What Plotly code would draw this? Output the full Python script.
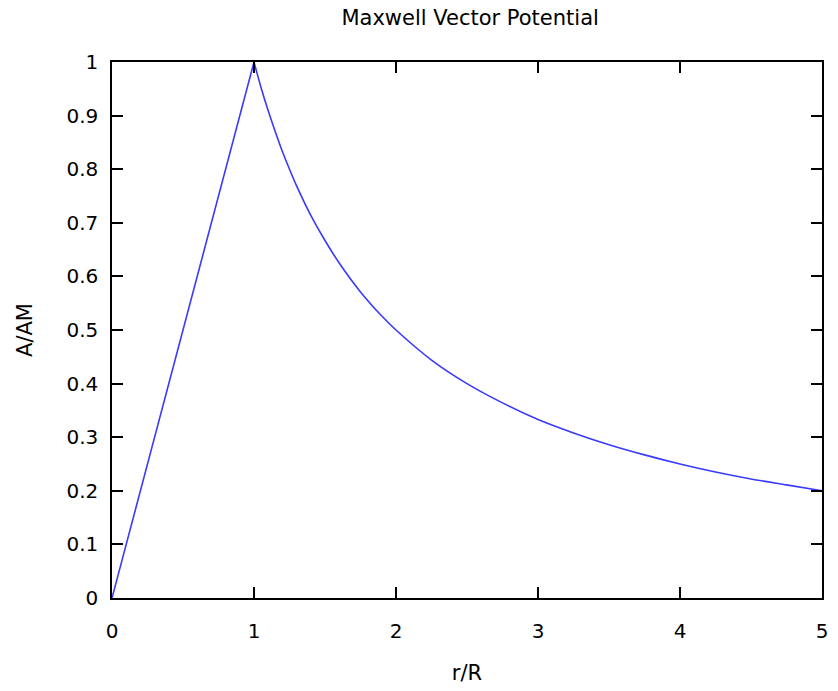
import plotly.graph_objects as go

# Values
# Rising part (inside the conductor)
r_inner = [0, 1]
A_inner = [0, 1]
# Decaying part (outside the conductor)
r_outer = [1, 1.05, 1.1, 1.15, 1.2, 1.25, 1.3, 1.4, 1.5, 1.6, 1.75, 1.9, 2.0,
           2.25, 2.5, 2.75, 3.0, 3.25, 3.5, 3.75, 4.0, 4.25, 4.5, 4.75, 5.0]
A_outer = [1, 0.952, 0.909, 0.870, 0.833, 0.800, 0.769, 0.714, 0.667, 0.625, 0.571, 0.526, 0.5,
           0.444, 0.4, 0.364, 0.333, 0.308, 0.286, 0.267, 0.25, 0.235, 0.222, 0.211, 0.2]

x_ticks = [0, 1, 2, 3, 4, 5]
y_ticks = [0, 0.1, 0.2, 0.3, 0.4, 0.5, 0.6, 0.7, 0.8, 0.9, 1]
y_tick_text = ["0", "0.1", "0.2", "0.3", "0.4", "0.5", "0.6", "0.7", "0.8", "0.9", "1"]

font = "Tahoma, DejaVu Sans, sans-serif"
line_color = "#3a3aff"

fig = go.Figure()
fig.add_trace(go.Scatter(x=r_inner, y=A_inner, mode="lines",
                         line=dict(color=line_color, width=1.6), showlegend=False))
fig.add_trace(go.Scatter(x=r_outer, y=A_outer, mode="lines",
                         line=dict(color=line_color, width=1.6, shape="spline", smoothing=0.8),
                         showlegend=False))

axis_common = dict(showgrid=False, zeroline=False, showline=True, mirror="ticks",
                   linecolor="black", linewidth=1.5, ticks="inside", ticklen=11,
                   tickwidth=1.5, tickcolor="black",
                   tickfont=dict(family=font, size=20, color="black"))

fig.update_xaxes(range=[0, 5], tickvals=x_ticks, ticktext=[str(t) for t in x_ticks],
                 ticklabelstandoff=14,
                 title=dict(text="r/R", font=dict(family=font, size=21, color="black"), standoff=24),
                 **axis_common)
fig.update_yaxes(range=[0, 1], tickvals=y_ticks, ticktext=y_tick_text,
                 ticklabelstandoff=8,
                 title=dict(text="A/AM", font=dict(family=font, size=21, color="black"), standoff=28),
                 **axis_common)

fig.update_layout(
    width=838, height=691,
    margin=dict(l=112, r=10, t=62, b=91),
    paper_bgcolor="white", plot_bgcolor="white",
    title=dict(text="Maxwell Vector Potential", x=0.561, xanchor="center", y=0.974, yanchor="middle",
               font=dict(family=font, size=21, color="black")),
)

fig.write_html("out.html")
